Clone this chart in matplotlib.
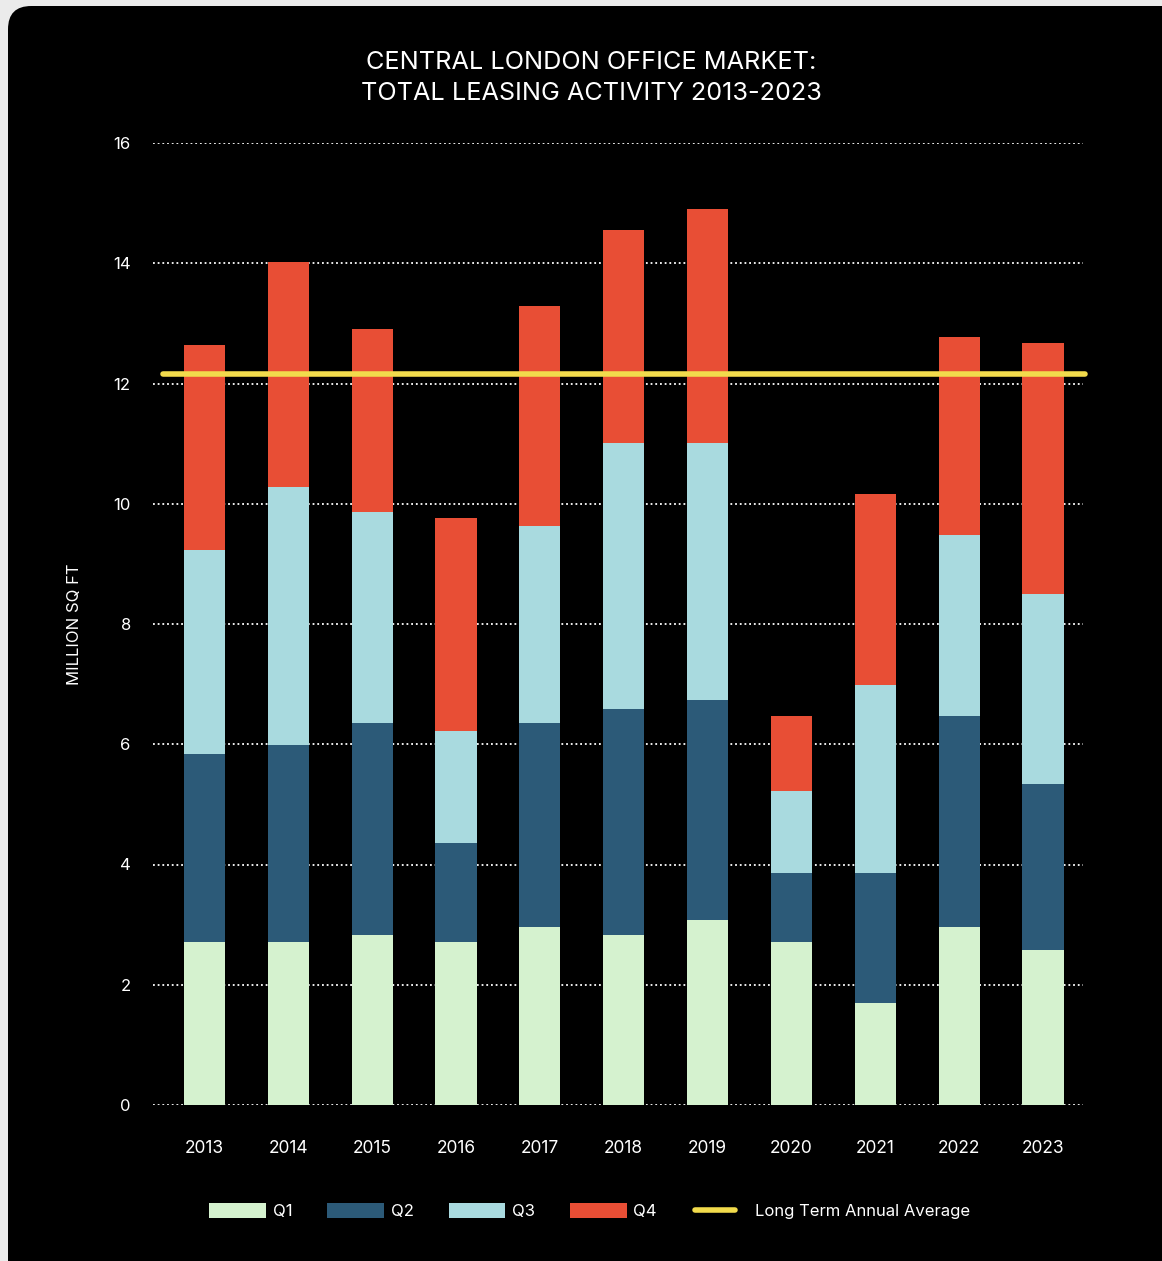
"""Central London office market: stacked quarterly leasing with long term average."""
import matplotlib

matplotlib.use("Agg")
import matplotlib.pyplot as plt
import numpy as np
from matplotlib.patches import FancyBboxPatch, Patch
from matplotlib.lines import Line2D
from matplotlib.legend_handler import HandlerLine2D

years = ["2013", "2014", "2015", "2016", "2017", "2018", "2019", "2020", "2021", "2022", "2023"]
q1 = [2.71, 2.71, 2.83, 2.71, 2.96, 2.83, 3.08, 2.71, 1.70, 2.96, 2.58]
q2 = [3.13, 3.28, 3.52, 1.65, 3.39, 3.76, 3.66, 1.15, 2.16, 3.51, 2.76]
q3 = [3.39, 4.29, 3.51, 1.86, 3.28, 4.42, 4.27, 1.36, 3.13, 3.01, 3.16]
q4 = [3.41, 3.74, 3.05, 3.54, 3.66, 3.54, 3.89, 1.25, 3.17, 3.29, 4.17]
long_term_avg = 12.16
y_ticks = [0, 2, 4, 6, 8, 10, 12, 14, 16]

series = [("Q1", q1, "#d5f2cf"), ("Q2", q2, "#2c5a78"), ("Q3", q3, "#a9dadf"), ("Q4", q4, "#e84e35")]
avg_color = "#f2db4c"
FONT = ["Inter", "DejaVu Sans"]


class ShortLineHandler(HandlerLine2D):
    """Legend line that is a bit shorter than the patch handles, with a wider gap to its text."""

    def get_xdata(self, legend, xdescent, ydescent, width, height, fontsize):
        xdata = np.array([-xdescent + 0.05 * width, -xdescent + 0.75 * width])
        return xdata, xdata


W, H = 1162, 1261
fig = plt.figure(figsize=(W / 100, H / 100), dpi=100)
fig.patch.set_facecolor("#ebebeb")

# black rounded card behind everything
card = FancyBboxPatch((8 / W, -0.05), 1.2, 1.05 - 6 / H,
                      boxstyle="round,pad=0,rounding_size=0.02",
                      transform=fig.transFigure, facecolor="black", edgecolor="none", zorder=-10,
                      mutation_aspect=W / H)
fig.patches.append(card)

ax = fig.add_axes([153 / W, (H - 1105) / H, (1083 - 153) / W, (1105 - 143) / H])
ax.set_facecolor("none")

x = np.arange(len(years))
bottom = np.zeros(len(years))
for name, vals, color in series:
    ax.bar(x, vals, width=0.49, bottom=bottom, color=color, label=name, zorder=2)
    bottom += np.array(vals)

ax.plot([-0.5, 10.5], [long_term_avg, long_term_avg], color=avg_color, linewidth=4,
        solid_capstyle="round", zorder=3, clip_on=False)

ax.set_xlim(-0.614, 10.477)
ax.set_ylim(0, 16)
ax.set_yticks(y_ticks)
ax.set_yticklabels([str(t) for t in y_ticks], fontsize=12, color="white", family=FONT)
ax.set_xticks(x)
ax.set_xticklabels(years, fontsize=12.5, color="white", family=FONT)
ax.tick_params(axis="y", length=0, pad=16)
ax.tick_params(axis="x", length=0, pad=25)
for s in ax.spines.values():
    s.set_visible(False)
ax.grid(axis="y", color="white", linestyle=(0, (1, 1.6)), linewidth=1.3, zorder=1)
ax.set_axisbelow(True)
ax.set_ylabel("MILLION SQ FT", color="white", fontsize=12, family=FONT, labelpad=22)

fig.text(591 / W, 1 - 78 / H, "CENTRAL LONDON OFFICE MARKET:\nTOTAL LEASING ACTIVITY 2013-2023",
         ha="center", va="center", color="white", fontsize=18.2, family=FONT, linespacing=1.45)

handles = [Patch(facecolor=c, edgecolor="none") for _, _, c in series]
handles.append(Line2D([0], [0], color=avg_color, linewidth=4, solid_capstyle="round"))
labels = [n for n, _, _ in series] + ["Long Term Annual Average"]
leg = fig.legend(handles, labels, loc="center", bbox_to_anchor=(590 / W, 1 - 1211 / H), ncol=5,
                 frameon=False, handlelength=3.4, handleheight=1.05, handletextpad=0.4,
                 columnspacing=2.1, prop={"family": FONT, "size": 12},
                 handler_map={Line2D: ShortLineHandler()})
for t in leg.get_texts():
    t.set_color("white")

fig.savefig("out.png", dpi=100, facecolor=fig.get_facecolor())
